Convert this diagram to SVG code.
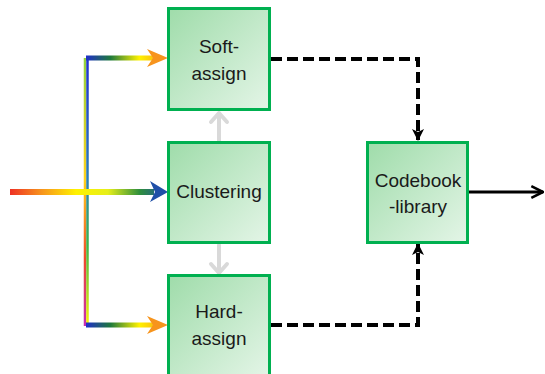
<svg xmlns="http://www.w3.org/2000/svg" width="545" height="374" viewBox="0 0 545 374">
  <defs>
    <linearGradient id="boxFill" x1="0" y1="0" x2="1" y2="1">
      <stop offset="0" stop-color="#9fdcaa"/>
      <stop offset="1" stop-color="#e4f5e7"/>
    </linearGradient>
    <!-- main input stream: red through yellow into green/blue -->
    <linearGradient id="gIn" gradientUnits="userSpaceOnUse" x1="10" y1="0" x2="168" y2="0">
      <stop offset="0" stop-color="#ee3124"/>
      <stop offset="0.2" stop-color="#f7941d"/>
      <stop offset="0.42" stop-color="#fff200"/>
      <stop offset="0.62" stop-color="#e6ef1a"/>
      <stop offset="0.82" stop-color="#2f8f3c"/>
      <stop offset="1" stop-color="#1f4fa8"/>
    </linearGradient>
    <!-- side branches: blue into orange -->
    <linearGradient id="gBranch" gradientUnits="userSpaceOnUse" x1="86" y1="0" x2="168" y2="0">
      <stop offset="0" stop-color="#1f2fc8"/>
      <stop offset="0.3" stop-color="#1f7a3c"/>
      <stop offset="0.65" stop-color="#fff200"/>
      <stop offset="1" stop-color="#f7941d"/>
    </linearGradient>
    <linearGradient id="gVertL" gradientUnits="userSpaceOnUse" x1="0" y1="58" x2="0" y2="326">
      <stop offset="0" stop-color="#8fd13f"/>
      <stop offset="0.45" stop-color="#fdd21c"/>
      <stop offset="0.75" stop-color="#ef4a2a"/>
      <stop offset="1" stop-color="#c42fb4"/>
    </linearGradient>
    <linearGradient id="gVertR" gradientUnits="userSpaceOnUse" x1="0" y1="58" x2="0" y2="326">
      <stop offset="0" stop-color="#1f2fd0"/>
      <stop offset="0.45" stop-color="#2a7fb8"/>
      <stop offset="0.7" stop-color="#3bb54a"/>
      <stop offset="1" stop-color="#fff200"/>
    </linearGradient>
    <marker id="headDash" viewBox="0 0 12 12" refX="11" refY="6" markerWidth="12" markerHeight="12" markerUnits="userSpaceOnUse" orient="auto">
      <path d="M0,0 L12,6 L0,12 L3,6 Z" fill="#000"/>
    </marker>
    <marker id="headOut" viewBox="0 0 12 12" refX="11" refY="6" markerWidth="14" markerHeight="14" markerUnits="userSpaceOnUse" orient="auto">
      <path d="M1,1 L11,6 L1,11" fill="none" stroke="#000" stroke-width="2.2"/>
    </marker>
    <style>
      .box { fill: url(#boxFill); stroke: #00b050; stroke-width: 3; }
      .lbl { font-family: "Liberation Sans", Arial, sans-serif; font-size: 19px; fill: #1a1a1a; text-anchor: middle; }
      .dash { fill: none; stroke: #000; stroke-width: 4; stroke-dasharray: 11 5; }
      .gray { fill: none; stroke: #d9d9d9; stroke-width: 4; stroke-linecap: round; stroke-linejoin: round; }
    </style>
  </defs>

  <g id="connectors">
    <!-- rainbow input fan-out -->
    <line x1="85" y1="58" x2="85" y2="326" stroke="url(#gVertL)" stroke-width="2.5"/>
    <line x1="87.5" y1="58" x2="87.5" y2="326" stroke="url(#gVertR)" stroke-width="2.5"/>
    <line x1="10" y1="192" x2="154" y2="192" stroke="url(#gIn)" stroke-width="6"/>
    <path d="M168,192 L150,181 L155,192 L150,202 Z" fill="#1f4fa8"/>
    <line x1="86" y1="58" x2="154" y2="58" stroke="url(#gBranch)" stroke-width="5"/>
    <path d="M168,58 L147,49 L153,58 L147,67 Z" fill="#f7941d"/>
    <line x1="86" y1="325" x2="154" y2="325" stroke="url(#gBranch)" stroke-width="5"/>
    <path d="M168,325 L147,316 L153,325 L147,334 Z" fill="#f7941d"/>

    <!-- clustering feeds both assignment stages -->
    <line class="gray" x1="219" y1="141" x2="219" y2="114"/>
    <polyline class="gray" points="211,122 219,113 227,122"/>
    <line class="gray" x1="219" y1="245" x2="219" y2="272"/>
    <polyline class="gray" points="211,264 219,273 227,264"/>

    <!-- assignments into the codebook library -->
    <path class="dash" d="M271,59 H418 V140" marker-end="url(#headDash)"/>
    <path class="dash" d="M271,325 H418 V244" marker-end="url(#headDash)"/>

    <!-- output -->
    <line x1="469" y1="192" x2="543" y2="192" stroke="#000" stroke-width="3" marker-end="url(#headOut)"/>
  </g>

  <g id="soft-assign">
    <rect class="box" x="168.5" y="8.5" width="101" height="101"/>
    <text class="lbl" x="219" y="53">Soft-</text>
    <text class="lbl" x="219" y="80">assign</text>
  </g>

  <g id="clustering">
    <rect class="box" x="168.5" y="142.5" width="101" height="100"/>
    <text class="lbl" x="219" y="198">Clustering</text>
  </g>

  <g id="hard-assign">
    <rect class="box" x="168.5" y="275.5" width="101" height="101"/>
    <text class="lbl" x="219" y="318">Hard-</text>
    <text class="lbl" x="219" y="345">assign</text>
  </g>

  <g id="codebook-library">
    <rect class="box" x="367.5" y="142.5" width="100" height="100"/>
    <text class="lbl" x="418" y="187">Codebook</text>
    <text class="lbl" x="418" y="213">-library</text>
  </g>
</svg>
